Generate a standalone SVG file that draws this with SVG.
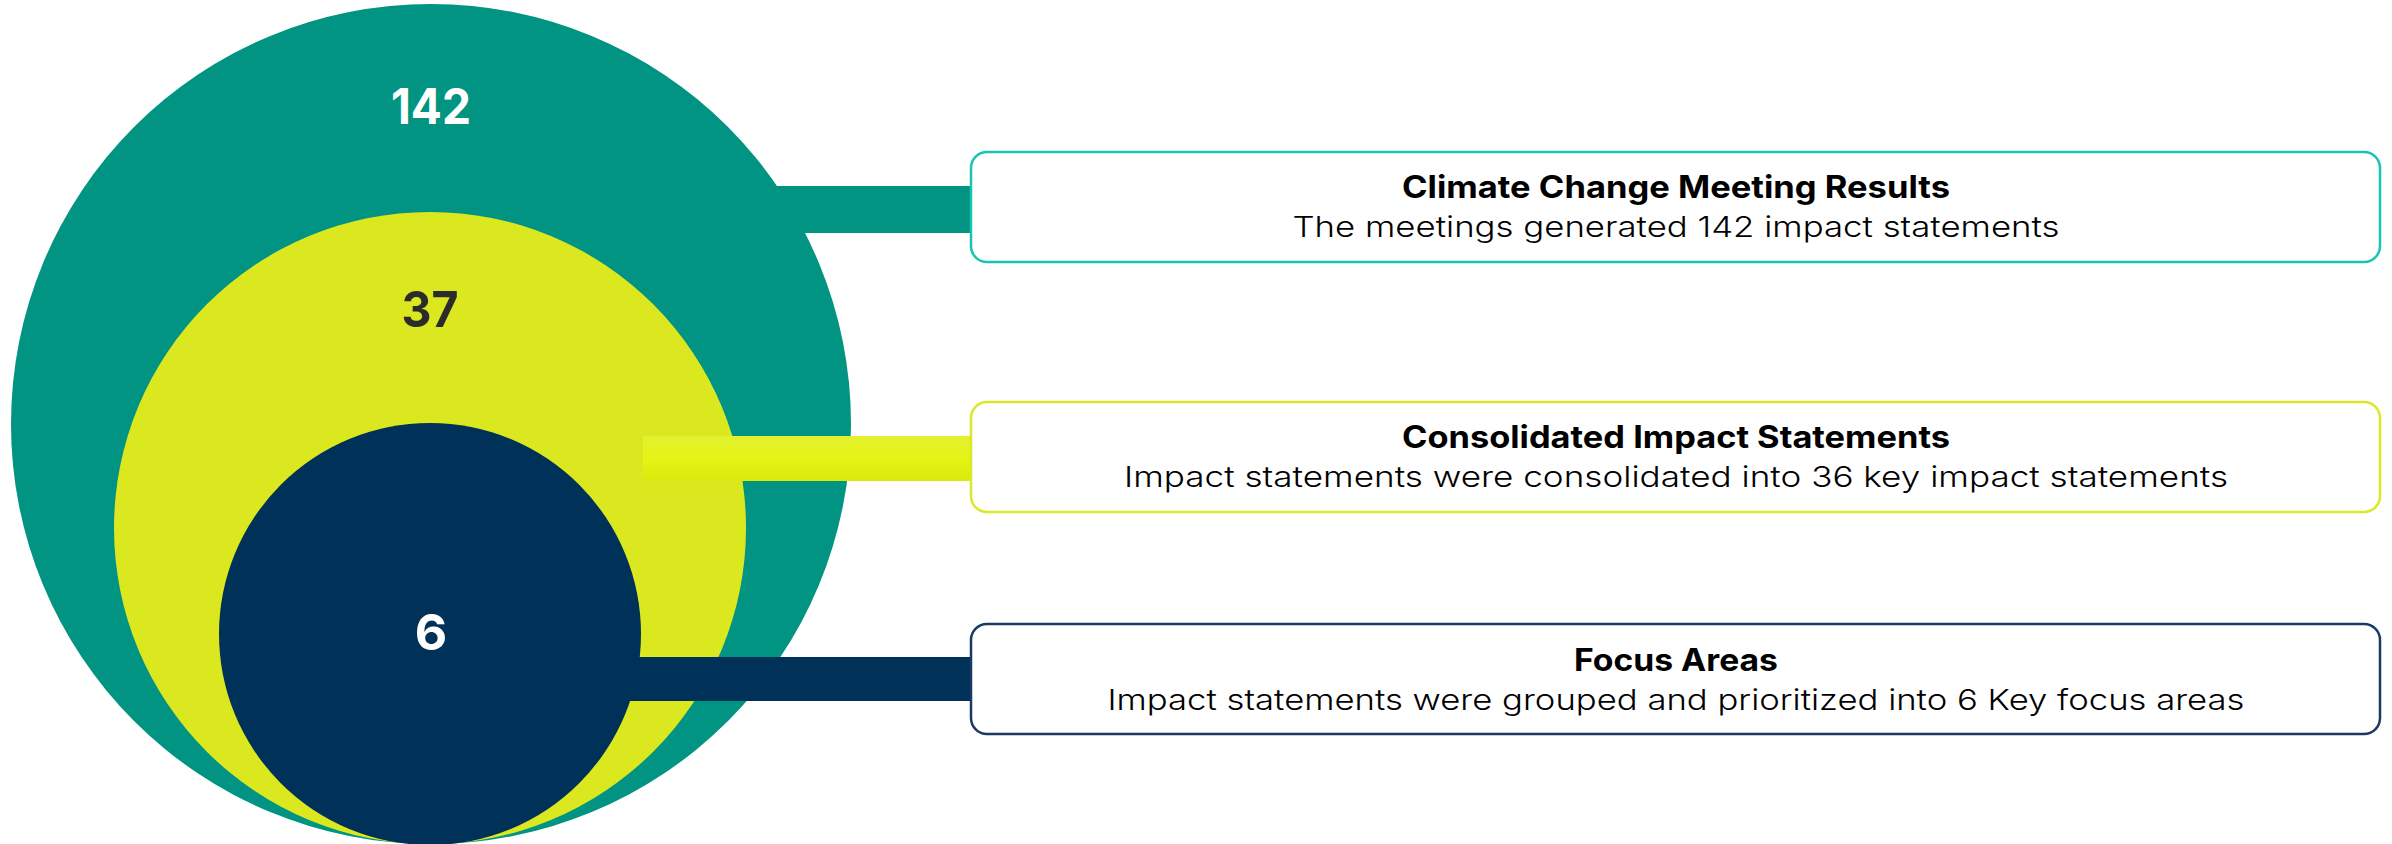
<svg xmlns="http://www.w3.org/2000/svg" width="2392" height="844" viewBox="0 0 2392 844">
  <style>
    .title { font-family: Inter, "Liberation Sans", sans-serif; font-weight: 700; font-size: 31px; fill: #000; text-anchor: middle; }
    .sub { font-family: Inter, "Liberation Sans", sans-serif; font-weight: 300; font-size: 29px; fill: #000; text-anchor: middle; }
    .num { font-family: Inter, "Liberation Sans", sans-serif; font-weight: 700; font-size: 50px; text-anchor: middle; }
    .box { fill: #ffffff; stroke-width: 2.5; }
  </style>
  <defs>
    <linearGradient id="ygrad" x1="0" y1="0" x2="0" y2="1">
      <stop offset="0" stop-color="#e3f030"/>
      <stop offset="0.5" stop-color="#e4f514"/>
      <stop offset="1" stop-color="#dce80e"/>
    </linearGradient>
  </defs>

  <g id="connectors">
    <rect x="700" y="186" width="272" height="47" fill="#019483"/>
  </g>

  <g id="circle-142">
    <circle cx="431" cy="424" r="420" fill="#019483"/>
    <text class="num" x="431" y="124" fill="#ffffff" textLength="80" lengthAdjust="spacingAndGlyphs">142</text>
  </g>
  <g id="circle-37">
    <circle cx="430" cy="528" r="316" fill="#dce81f"/>
    <text class="num" x="430" y="327" fill="#2b2b2b" textLength="57" lengthAdjust="spacingAndGlyphs">37</text>
  </g>

  <g id="connectors-front">
    <rect x="643" y="436" width="329" height="45" fill="url(#ygrad)"/>
    <rect x="500" y="657" width="472" height="44" fill="#003158"/>
  </g>

  <g id="circle-6">
    <circle cx="430" cy="634" r="211" fill="#003158"/>
    <text class="num" x="431" y="650" fill="#ffffff">6</text>
  </g>

  <g id="box-climate">
    <rect class="box" x="971" y="152" width="1409" height="110" rx="16" stroke="#17c5b0"/>
    <text class="title" x="1676" y="198" textLength="548" lengthAdjust="spacingAndGlyphs">Climate Change Meeting Results</text>
    <text class="sub" x="1676" y="237" textLength="767" lengthAdjust="spacingAndGlyphs">The meetings generated 142 impact statements</text>
  </g>
  <g id="box-consolidated">
    <rect class="box" x="971" y="402" width="1409" height="110" rx="16" stroke="#d9e829"/>
    <text class="title" x="1676" y="448" textLength="548" lengthAdjust="spacingAndGlyphs">Consolidated Impact Statements</text>
    <text class="sub" x="1676" y="487" textLength="1104" lengthAdjust="spacingAndGlyphs">Impact statements were consolidated into 36 key impact statements</text>
  </g>
  <g id="box-focus">
    <rect class="box" x="971" y="624" width="1409" height="110" rx="16" stroke="#1a3a63"/>
    <text class="title" x="1676" y="671" textLength="204" lengthAdjust="spacingAndGlyphs">Focus Areas</text>
    <text class="sub" x="1676" y="710" textLength="1137" lengthAdjust="spacingAndGlyphs">Impact statements were grouped and prioritized into 6 Key focus areas</text>
  </g>
</svg>
